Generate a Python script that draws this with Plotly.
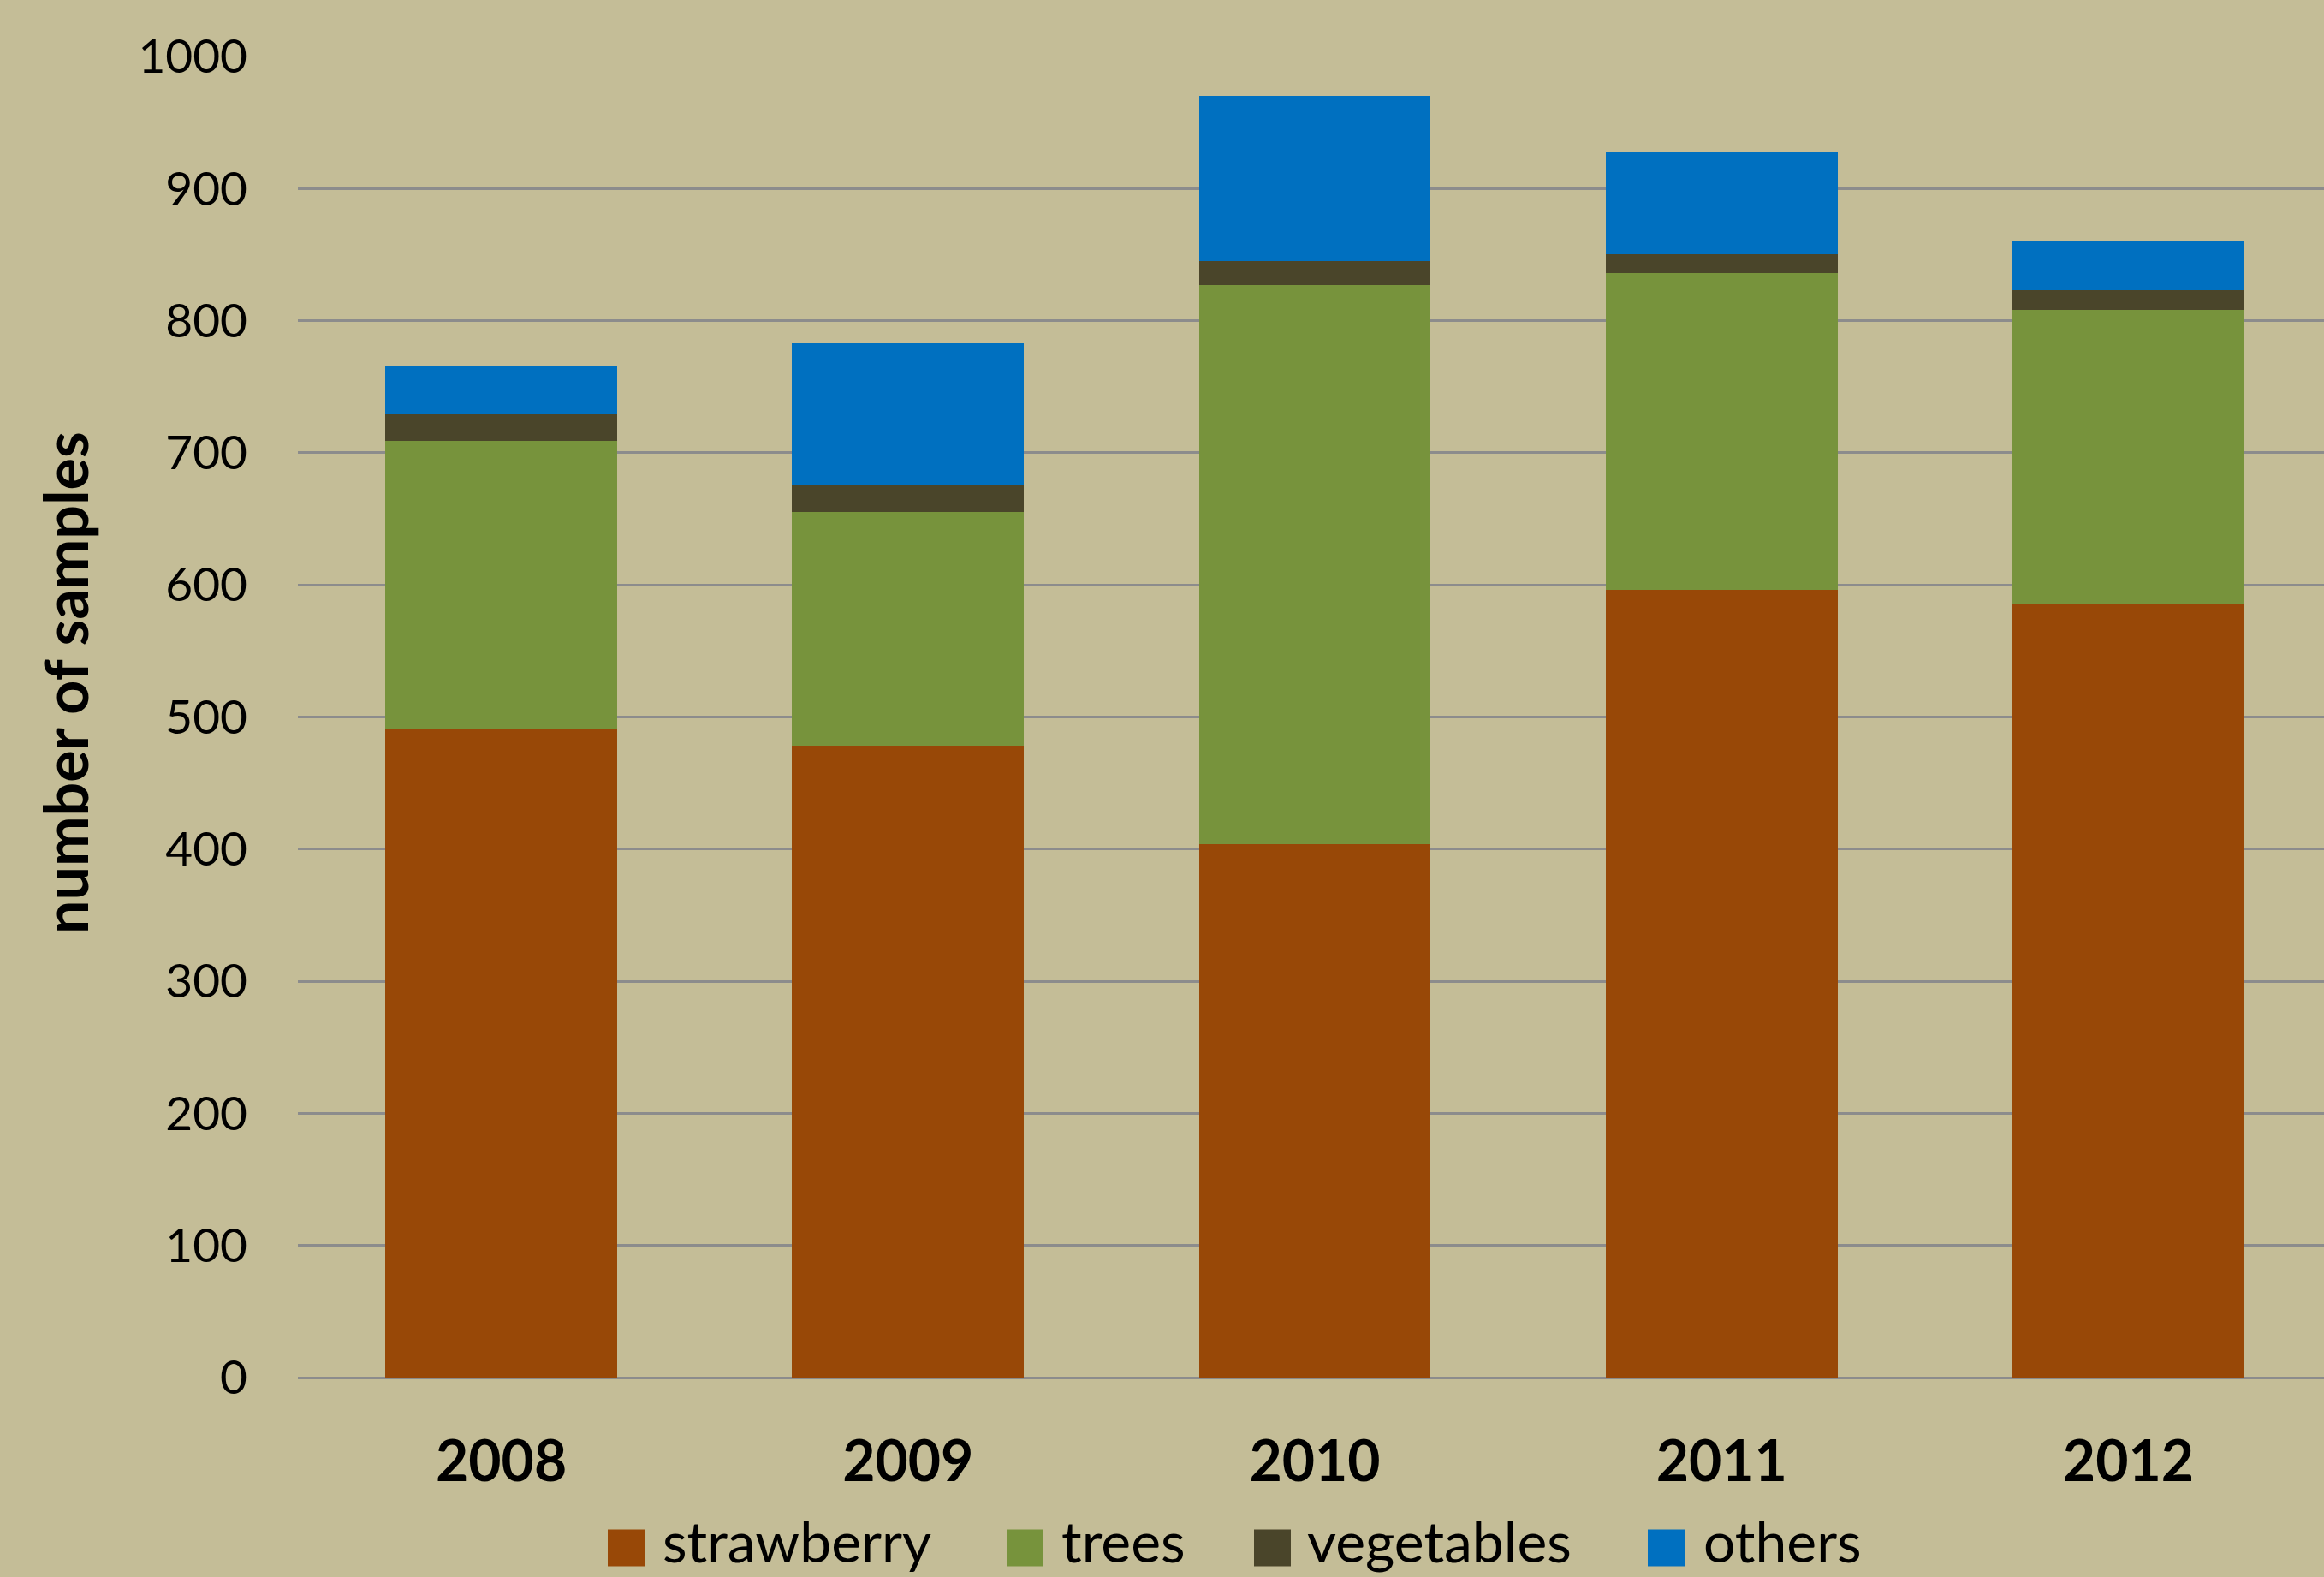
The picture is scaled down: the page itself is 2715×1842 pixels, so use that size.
import plotly.graph_objects as go

years = ["2008", "2009", "2010", "2011", "2012"]
strawberry = [491, 478, 404, 596, 586]
trees = [218, 177, 423, 240, 222]
vegetables = [21, 20, 18, 14, 15]
others = [36, 108, 125, 78, 37]

series_names = ["strawberry", "trees", "vegetables", "others"]
series_vals = [strawberry, trees, vegetables, others]
series_colors = ["#984807", "#77933C", "#4A452A", "#0070C0"]

FONT = "Lato, Open Sans, sans-serif"

W, H = 2715, 1842
ML, MR, MT, MB = 348, 0, 66, 233
PW, PH = W - ML - MR, H - MT - MB


def px_x(px):
    return (px - ML) / PW


def px_y(py):
    return (H - MB - py) / PH


fig = go.Figure()
for name, vals, color in zip(series_names, series_vals, series_colors):
    fig.add_trace(go.Bar(
        x=years, y=vals, name=name,
        marker=dict(color=color, line=dict(width=0)),
        width=0.57,
        showlegend=False,
    ))

# manual legend (large square swatches as in the reference)
sq_left = [710, 1176, 1465, 1925]
txt_left = [772, 1238, 1525, 1988]
sq_size = 43
sq_cy = 1808
txt_cy = 1799
shapes = []
annotations = []
for i, (name, color) in enumerate(zip(series_names, series_colors)):
    shapes.append(dict(
        type="rect", xref="paper", yref="paper",
        x0=px_x(sq_left[i]), x1=px_x(sq_left[i] + sq_size),
        y0=px_y(sq_cy + sq_size / 2), y1=px_y(sq_cy - sq_size / 2),
        fillcolor=color, line=dict(width=0),
    ))
    annotations.append(dict(
        text=name, xref="paper", yref="paper",
        x=px_x(txt_left[i]), y=px_y(txt_cy),
        xanchor="left", yanchor="middle", showarrow=False,
        font=dict(size=66, family=FONT, color="#000000"),
    ))

annotations.append(dict(
    text="<b>number of samples</b>", xref="paper", yref="paper",
    x=px_x(76), y=px_y(798), textangle=-90,
    xanchor="center", yanchor="middle", showarrow=False,
    font=dict(size=70, family=FONT, color="#000000"),
))

fig.update_layout(
    width=W, height=H,
    barmode="stack",
    paper_bgcolor="#C4BD97",
    plot_bgcolor="#C4BD97",
    margin=dict(l=ML, r=MR, t=MT, b=MB, autoexpand=False),
    font=dict(family=FONT, color="#000000"),
    showlegend=False,
    shapes=shapes,
    annotations=annotations,
)

fig.update_xaxes(
    type="category",
    range=[-0.5, 4.481],
    tickfont=dict(size=66, family=FONT, weight="bold"),
    showgrid=False,
    showline=False,
    ticks="",
    ticklabelstandoff=54,
    automargin=False,
)
fig.update_yaxes(
    range=[0, 1000],
    tickvals=[0, 100, 200, 300, 400, 500, 600, 700, 800, 900, 1000],
    tickfont=dict(size=55, family=FONT),
    showgrid=True,
    gridcolor="#8C8C8C",
    gridwidth=2.5,
    zeroline=True,
    zerolinecolor="#8C8C8C",
    zerolinewidth=3,
    showline=False,
    ticks="",
    ticklabelstandoff=58,
    automargin=False,
)

fig.write_html("out.html")
